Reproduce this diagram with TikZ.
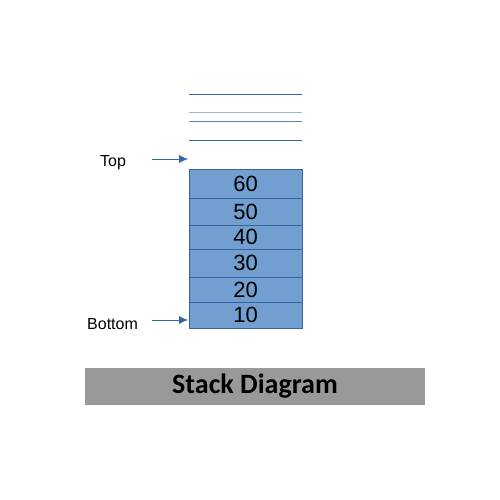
\documentclass[tikz,border=0pt]{standalone}
\usepackage{fontspec}
\setmainfont{Liberation Sans}
\newfontfamily\titlefont{Carlito}
\usetikzlibrary{arrows.meta}
\begin{document}
\begin{tikzpicture}[x=1pt,y=-1pt]
        %colours
        \definecolor{cellfill}{RGB}{114,159,207}
        \definecolor{bblue}{RGB}{52,101,164}
        \definecolor{lblue}{RGB}{160,180,210}
        \definecolor{bargray}{RGB}{153,153,153}
        \tikzset{
            cell/.style={draw=bblue,fill=cellfill,minimum width=113pt,inner sep=0pt,font=\fontsize{22}{22}\selectfont},
            pointer/.style={draw=bblue,-{Latex[length=9pt,width=8pt]}},
            label/.style={inner sep=0pt,font=\fontsize{16}{16}\selectfont}
        }
        \useasboundingbox (0,0) rectangle (500,500);

        % empty slots on top
        \draw[bblue] (189,94) -- (302,94);
        \draw[lblue] (189,112) -- (302,112);
        \draw[bblue!80] (189,121) -- (302,121);
        \draw[bblue] (189,140) -- (302,140);

        % cells of the stack
        \foreach \ya/\yb/\val in {169/198/60,198/225/50,225/249/40,249/277/30,277/302/20,302/328/10}
            \node[cell,minimum height={\yb-\ya}] (c\val) at (245.5,{(\ya+\yb)/2}) {\val};

        % pointers
        \node[label,anchor=west] (top) at (100,163) {Top};
        \coordinate (top tail) at (152,159);
        \coordinate (top head) at (188,159);
        \draw[pointer] (top tail) -- (top head);

        \node[label,anchor=west] (bottom) at (87,324) {Bottom};
        \coordinate (bottom tail) at (152,320);
        \coordinate (bottom head) at (188,320);
        \draw[pointer] (bottom tail) -- (bottom head);

        % title bar
        \node[fill=bargray,minimum width=340pt,minimum height=37pt,inner sep=0pt,
              font=\titlefont\bfseries\fontsize{28}{28}\selectfont] (title) at (255,386.5) {Stack Diagram};
    \end{tikzpicture}
\end{document}
